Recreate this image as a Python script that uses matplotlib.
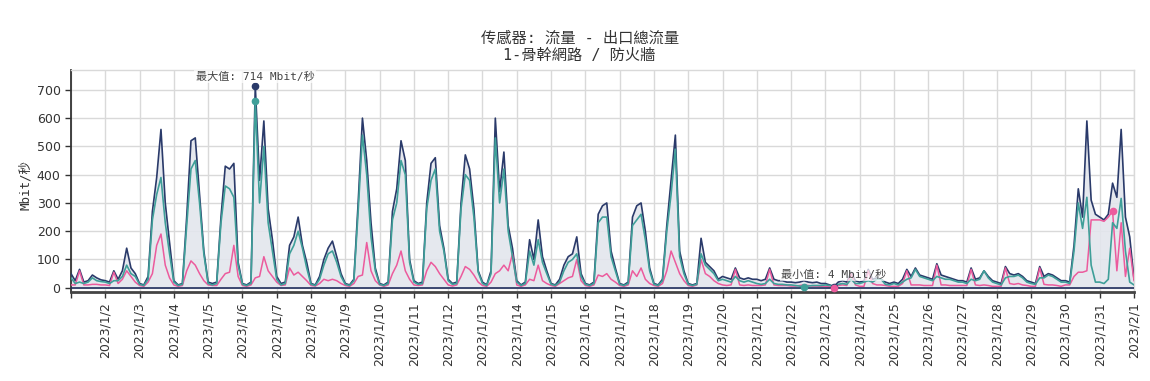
import matplotlib
matplotlib.use("Agg")
import matplotlib.pyplot as plt
import matplotlib.dates as mdates
import matplotlib.ticker as mticker
import numpy as np
import pandas as pd

# ---- data (3-hour samples, 8 per day, 2023-01-01 00:00 .. 2023-02-01 00:00) ----
start_time = "2023-01-01"
step = "3h"

total_traffic = [
    50, 25, 65, 20, 25, 45, 35, 28,        # 1/1
    25, 20, 60, 30, 60, 140, 70, 50,       # 1/2
    15, 10, 40, 270, 390, 560, 300, 160,   # 1/3
    25, 10, 15, 250, 520, 530, 330, 130,   # 1/4
    20, 15, 20, 250, 430, 420, 440, 90,    # 1/5
    15, 10, 20, 714, 380, 590, 280, 170,   # 1/6
    40, 15, 20, 150, 180, 250, 150, 90,    # 1/7
    15, 10, 40, 100, 140, 165, 110, 50,    # 1/8
    15, 10, 30, 300, 600, 450, 230, 70,    # 1/9
    15, 10, 20, 270, 350, 520, 450, 100,   # 1/10
    25, 15, 20, 300, 440, 460, 220, 140,   # 1/11
    30, 15, 20, 300, 470, 420, 280, 60,    # 1/12
    20, 10, 60, 600, 340, 480, 220, 140,   # 1/13
    25, 10, 20, 170, 100, 240, 110, 60,    # 1/14
    15, 10, 30, 80, 110, 120, 180, 50,     # 1/15
    15, 10, 20, 260, 290, 300, 130, 70,    # 1/16
    15, 10, 20, 250, 290, 300, 200, 70,    # 1/17
    15, 10, 30, 220, 380, 540, 130, 60,    # 1/18
    15, 10, 15, 175, 90, 75, 60, 30,       # 1/19
    40, 35, 30, 70, 35, 30, 35, 30,        # 1/20
    30, 25, 30, 70, 30, 25, 25, 20,        # 1/21
    20, 18, 20, 25, 20, 18, 20, 15,        # 1/22
    15, 10, 4, 20, 25, 20, 55, 25,         # 1/23
    20, 25, 65, 30, 35, 30, 20, 15,        # 1/24
    20, 15, 30, 65, 40, 70, 45, 40,        # 1/25
    35, 30, 85, 45, 40, 35, 30, 25,        # 1/26
    25, 20, 70, 30, 35, 60, 40, 25,        # 1/27
    20, 15, 75, 50, 45, 50, 40, 25,        # 1/28
    20, 15, 75, 40, 50, 45, 35, 25,        # 1/29
    25, 20, 150, 350, 250, 590, 310, 260,  # 1/30
    250, 240, 260, 370, 320, 560, 250, 180,  # 1/31
    30,                                    # 2/1
]

teal_traffic = [
    35, 15, 20, 15, 20, 35, 25, 22,
    20, 15, 25, 25, 40, 80, 50, 40,
    12, 8, 30, 240, 330, 390, 230, 120,
    20, 8, 12, 220, 420, 450, 300, 120,
    15, 10, 15, 230, 360, 350, 320, 80,
    12, 8, 15, 660, 300, 500, 230, 130,
    30, 10, 15, 120, 150, 200, 140, 70,
    12, 8, 30, 80, 120, 130, 90, 40,
    12, 8, 25, 270, 540, 400, 180, 60,
    12, 8, 15, 240, 300, 450, 400, 90,
    20, 12, 15, 280, 380, 420, 200, 130,
    25, 12, 15, 280, 400, 380, 250, 55,
    15, 8, 50, 530, 300, 420, 200, 110,
    20, 8, 15, 130, 80, 170, 90, 50,
    12, 8, 20, 60, 90, 100, 120, 40,
    12, 8, 15, 230, 250, 250, 110, 60,
    12, 8, 15, 220, 240, 260, 170, 60,
    12, 8, 25, 200, 330, 490, 110, 50,
    12, 8, 12, 120, 80, 65, 50, 25,
    30, 25, 20, 40, 25, 20, 25, 20,
    15, 12, 15, 30, 15, 12, 12, 10,
    10, 8, 6, 2, 6, 8, 8, 8,
    10, 8, 6, 12, 15, 12, 30, 15,
    15, 20, 25, 20, 30, 30, 12, 10,
    15, 10, 20, 30, 35, 65, 40, 35,
    30, 25, 40, 35, 30, 30, 25, 20,
    20, 15, 30, 25, 30, 60, 35, 20,
    15, 10, 35, 40, 40, 45, 35, 20,
    15, 12, 35, 35, 45, 40, 30, 20,
    20, 15, 130, 300, 210, 320, 80, 20,
    20, 15, 30, 230, 210, 316, 130, 20,
    10,
]

pink_traffic = [
    10, 10, 60, 10, 10, 12, 12, 10,
    10, 8, 55, 15, 30, 60, 40, 20,
    8, 5, 20, 50, 150, 190, 80, 35,
    10, 5, 8, 60, 95, 80, 50, 25,
    10, 8, 8, 30, 50, 55, 150, 40,
    8, 5, 10, 35, 40, 110, 60, 40,
    20, 8, 10, 70, 45, 55, 40, 25,
    8, 6, 15, 30, 25, 30, 25, 15,
    8, 5, 15, 40, 45, 160, 60, 25,
    10, 5, 10, 50, 80, 130, 60, 30,
    10, 8, 10, 60, 90, 75, 50, 30,
    10, 6, 10, 40, 75, 65, 45, 20,
    8, 5, 20, 50, 60, 80, 60, 120,
    10, 5, 10, 30, 25, 80, 25, 15,
    8, 5, 15, 25, 35, 40, 100, 25,
    8, 5, 10, 45, 40, 50, 30, 20,
    8, 5, 10, 60, 40, 70, 30, 15,
    8, 5, 15, 60, 130, 90, 50, 25,
    8, 5, 10, 100, 50, 40, 25, 15,
    10, 8, 10, 65, 10, 8, 10, 8,
    8, 8, 10, 65, 10, 8, 8, 8,
    6, 6, 8, 10, 8, 6, 6, 5,
    5, 3, 0, 8, 10, 8, 50, 10,
    5, 5, 60, 15, 10, 10, 8, 5,
    5, 5, 15, 60, 10, 10, 10, 8,
    8, 8, 80, 10, 10, 8, 8, 8,
    8, 8, 65, 10, 8, 10, 8, 5,
    5, 5, 70, 15, 12, 15, 10, 8,
    5, 5, 70, 12, 10, 10, 8, 5,
    10, 10, 40, 55, 55, 60, 240, 240,
    240, 235, 250, 271, 60, 230, 40, 140,
    25,
]

title_line1 = "传感器: 流量 - 出口總流量"
title_line2 = "1-骨幹網路 / 防火牆"
y_label = "Mbit/秒"
max_label = "最大值: {} Mbit/秒"
min_label = "最小值: {} Mbit/秒"
y_ticks = [0, 100, 200, 300, 400, 500, 600, 700]

# ---- styling ----
NAVY = "#2a3a6a"
TEAL = "#3f9f99"
PINK = "#ec5b9d"
FILL = "#e3e6ed"
GRID = "#d9d9d9"
MONO = ["DejaVu Sans Mono", "Noto Sans CJK TC"]

times = pd.date_range(start_time, periods=len(total_traffic), freq=step)
navy = np.array(total_traffic, dtype=float)
teal = np.array(teal_traffic, dtype=float)
pink = np.array(pink_traffic, dtype=float)

fig = plt.figure(figsize=(11.5, 3.81), dpi=100)
ax = fig.add_axes([0.0617, 0.2336, 0.9244, 0.5825])

ax.fill_between(times, 0, navy, color=FILL, alpha=0.9, lw=0, zorder=1)
ax.plot(times, navy, color=NAVY, lw=1.2, zorder=3)
ax.plot(times, teal, color=TEAL, lw=1.2, zorder=4)
ax.plot(times, pink, color=PINK, lw=1.1, zorder=3.5)
ax.axhline(0, color="#1f2d5c", lw=1.2, zorder=5)

# max / min markers
for arr, col in ((navy, NAVY), (teal, TEAL), (pink, PINK)):
    imax = int(np.argmax(arr))
    imin = int(np.argmin(arr))
    ax.plot(times[imax], arr[imax], "o", color=col, ms=4.5, zorder=6)
    ax.plot(times[imin], arr[imin], "o", color=col, ms=4.5, zorder=6)

imax = int(np.argmax(navy))
imin = int(np.argmin(navy))
bbox = dict(boxstyle="square,pad=0.15", fc="white", ec="none", alpha=0.7)
ax.annotate(max_label.format(int(navy[imax])), (times[imax], navy[imax]),
            xytext=(0, 3), textcoords="offset points", ha="center", va="bottom",
            fontsize=8, family=MONO, color="#444444", bbox=bbox, zorder=7)
ax.annotate(min_label.format(int(navy[imin])), (times[imin], navy[imin]),
            xytext=(0, 5), textcoords="offset points", ha="center", va="bottom",
            fontsize=8, family=MONO, color="#444444", bbox=bbox, zorder=7)

ax.set_xlim(pd.Timestamp("2023-01-01"), pd.Timestamp("2023-02-01"))
ax.set_ylim(-15, 770)
ax.set_yticks(y_ticks)

ax.xaxis.set_major_locator(mdates.DayLocator())
def fmt(x, pos):
    d = mdates.num2date(x)
    if d.month == 1 and d.day == 1:
        return ""
    return f"{d.year}/{d.month}/{d.day}"
ax.xaxis.set_major_formatter(mticker.FuncFormatter(fmt))

ax.grid(True, color=GRID, lw=1.0, zorder=0)
ax.set_axisbelow(True)
for s in ("top", "right"):
    ax.spines[s].set_color(GRID)
    ax.spines[s].set_linewidth(1.0)
ax.spines["left"].set_color("#333333")
ax.spines["left"].set_linewidth(1.3)
ax.spines["bottom"].set_color("#444444")
ax.spines["bottom"].set_linewidth(2.0)

ax.tick_params(axis="x", rotation=90, labelsize=9, colors="#333333", length=4, width=1)
ax.tick_params(axis="y", labelsize=9, colors="#333333", length=4, width=1)
for lbl in ax.get_xticklabels() + ax.get_yticklabels():
    lbl.set_color("#333333")

fig.text(0.022, 0.515, y_label, rotation=90, ha="center", va="center",
         fontsize=9, family=MONO, color="#333333")
fig.text(0.504, 0.90, title_line1, ha="center", va="center",
         fontsize=11, family=MONO, color="#333333")
fig.text(0.504, 0.855, title_line2, ha="center", va="center",
         fontsize=11, family=MONO, color="#333333")

fig.savefig("out.png", dpi=100)
